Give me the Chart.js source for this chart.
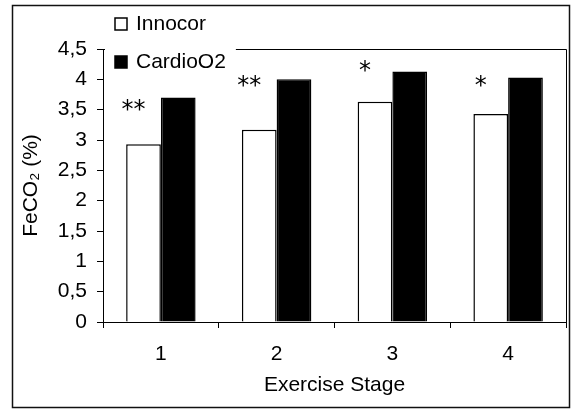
<!DOCTYPE html>
<html>
<head>
<meta charset="utf-8">
<script src="https://cdn.jsdelivr.net/npm/chart.js@4.4.4/dist/chart.umd.min.js"></script>
<style>
  html, body { margin: 0; padding: 0; background: #fff; }
  canvas { display: block; }
</style>
</head>
<body>
<canvas id="chart" width="574" height="410"></canvas>
<script>
const stages = ['1', '2', '3', '4'];
const innocor = [2.93, 3.17, 3.63, 3.43];
const cardioO2 = [3.70, 4.00, 4.13, 4.03];
const stars = ['**', '**', '*', '*'];
const starLevel = [3.55, 3.94, 4.19, 3.94];

const FONT = '"Liberation Sans", Arial, sans-serif';
const FS = 21;

const framePlugin = {
  id: 'frame',
  beforeDraw(chart) {
    const ctx = chart.ctx;
    ctx.save();
    ctx.fillStyle = '#fff';
    ctx.fillRect(0, 0, chart.width, chart.height);
    ctx.restore();
  },
  afterDatasetsDraw(chart) {
    // significance marks above each pair
    const { ctx, scales } = chart;
    const meta = chart.getDatasetMeta(0);
    ctx.save();
    ctx.fillStyle = '#000';
    ctx.font = '24px "DejaVu Sans"';
    ctx.textAlign = 'center';
    ctx.textBaseline = 'middle';
    stars.forEach((s, i) => {
      const x = meta.data[i].x - 10;
      const y = scales.y.getPixelForValue(starLevel[i]);
      ctx.fillText(s, x, y + 4);
    });
    ctx.restore();
  },
  afterDraw(chart) {
    const { ctx, chartArea: a } = chart;
    ctx.save();
    ctx.strokeStyle = '#000';
    ctx.lineWidth = 1;
    ctx.beginPath();
    ctx.moveTo(a.left, a.top + 0.5);
    ctx.lineTo(a.right + 0.5, a.top + 0.5);
    ctx.lineTo(a.right + 0.5, a.bottom);
    ctx.stroke();

    // outer frame
    ctx.lineWidth = 1.5;
    ctx.strokeStyle = '#111';
    ctx.strokeRect(12.5, 5.5, chart.width - 17, chart.height - 8);

    // legend
    ctx.font = FS + 'px ' + FONT;
    const ds = chart.data.datasets;
    const textX = a.left + 33;
    const sqX = a.left + 12;
    const rowY = [a.top - 25, a.top + 13];
    const maxW = Math.max(...ds.map(d => ctx.measureText(d.label).width));
    ctx.fillStyle = '#fff';
    ctx.fillRect(a.left + 2, rowY[0] - 14, textX + maxW + 10 - (a.left + 2), rowY[1] - rowY[0] + 28);
    ds.forEach((d, i) => {
      const y = rowY[i];
      ctx.fillStyle = d.backgroundColor;
      ctx.fillRect(sqX, y - 6, 12, 12);
      ctx.lineWidth = 1.5;
      ctx.strokeStyle = '#000';
      ctx.strokeRect(sqX, y - 6, 12, 12);
      ctx.fillStyle = '#000';
      ctx.textAlign = 'left';
      ctx.textBaseline = 'middle';
      ctx.fillText(d.label, textX, y);
    });
    ctx.restore();
  }
};

new Chart(document.getElementById('chart'), {
  type: 'bar',
  data: {
    labels: stages,
    datasets: [
      {
        label: 'Innocor',
        data: innocor,
        backgroundColor: '#ffffff',
        borderColor: '#000000',
        borderWidth: 1.5,
        borderSkipped: 'bottom',
        categoryPercentage: 0.6,
        barPercentage: 1,
      },
      {
        label: 'CardioO2',
        data: cardioO2,
        backgroundColor: '#000000',
        borderColor: '#000000',
        borderWidth: 1.5,
        borderSkipped: 'bottom',
        categoryPercentage: 0.6,
        barPercentage: 1,
      },
    ],
  },
  options: {
    responsive: false,
    animation: false,
    layout: { padding: { top: 49, right: 8, left: 0, bottom: 0 } },
    plugins: { legend: { display: false }, tooltip: { enabled: false } },
    scales: {
      x: {
        afterFit(s) { s.height = 88; },
        border: { color: '#000', width: 1 },
        grid: { drawOnChartArea: false, offset: true, tickLength: 6, color: '#000' },
        ticks: { color: '#000', padding: 14, font: { size: FS, family: FONT } },
        title: {
          display: true, text: 'Exercise Stage', color: '#000',
          font: { size: FS, family: FONT }, padding: { top: 0, bottom: 12 },
        },
      },
      y: {
        min: 0,
        max: 4.5,
        afterFit(s) { s.width = 103; },
        border: { color: '#000', width: 1 },
        grid: { drawOnChartArea: false, tickLength: 6, color: '#000' },
        ticks: {
          stepSize: 0.5, color: '#000', padding: 10,
          font: { size: FS, family: FONT },
          callback: v => String(v).replace('.', ','),
        },
        title: {
          display: true, text: 'FeCO₂ (%)', color: '#000',
          font: { size: FS, family: FONT }, padding: { top: 19, bottom: 0 },
        },
      },
    },
  },
  plugins: [framePlugin],
});
</script>
</body>
</html>
